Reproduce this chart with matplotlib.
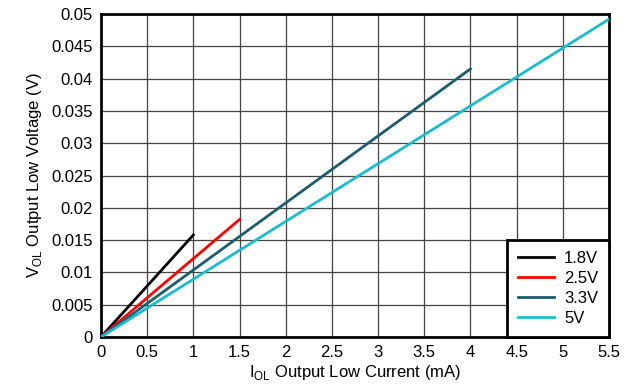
import matplotlib.pyplot as plt
import numpy as np

plt.rcParams['font.family'] = ['Liberation Sans', 'DejaVu Sans']
plt.rcParams['mathtext.fontset'] = 'custom'
plt.rcParams['mathtext.rm'] = 'Liberation Sans'

# endpoints of each V_OL vs I_OL curve (starts at origin)
labels = ['1.8V', '2.5V', '3.3V', '5V']
i_ol = [[0, 1.0], [0, 1.5], [0, 4.0], [0, 5.5]]
v_ol = [[0, 0.0158], [0, 0.0182], [0, 0.0415], [0, 0.0492]]
colors = ['#000000', '#ff0000', '#1b5c6e', '#19bccf']

xticks = np.arange(0, 5.51, 0.5)
yticks = np.arange(0, 0.0501, 0.005)

fig = plt.figure(figsize=(6.33, 3.89), dpi=100)
ax = fig.add_axes([101/633, 52/389, 508/633, 323/389])

for x, y, c, lab in zip(i_ol, v_ol, colors, labels):
    ax.plot(x, y, color=c, linewidth=2, label=lab, zorder=3)

ax.set_xlim(0, 5.5)
ax.set_ylim(0, 0.05)
ax.set_xticks(xticks)
ax.set_xticklabels(['0' if v == 0 else f'{v:g}' for v in xticks])
ax.set_yticks(yticks)
ax.set_yticklabels(['0' if v == 0 else f'{v:g}' for v in yticks])
ax.grid(True, color='#444444', linewidth=0.9)
ax.tick_params(length=0, labelsize=12, pad=6)
for s in ax.spines.values():
    s.set_linewidth(2)
    s.set_color('black')

ax.set_xlabel(r'I$_{\mathrm{OL}}$ Output Low Current (mA)', fontsize=12, labelpad=2)
ax.set_ylabel(r'V$_{\mathrm{OL}}$ Output Low Voltage (V)', fontsize=12, labelpad=5)

leg = ax.legend(loc='lower right', borderaxespad=0, fancybox=False,
                fontsize=12, handlelength=2.15, labelspacing=0.3,
                borderpad=0.65, handletextpad=0.6, framealpha=1)
leg.get_frame().set_edgecolor('black')
leg.get_frame().set_linewidth(2)
leg.set_zorder(5)

fig.savefig('out.png', dpi=100)
